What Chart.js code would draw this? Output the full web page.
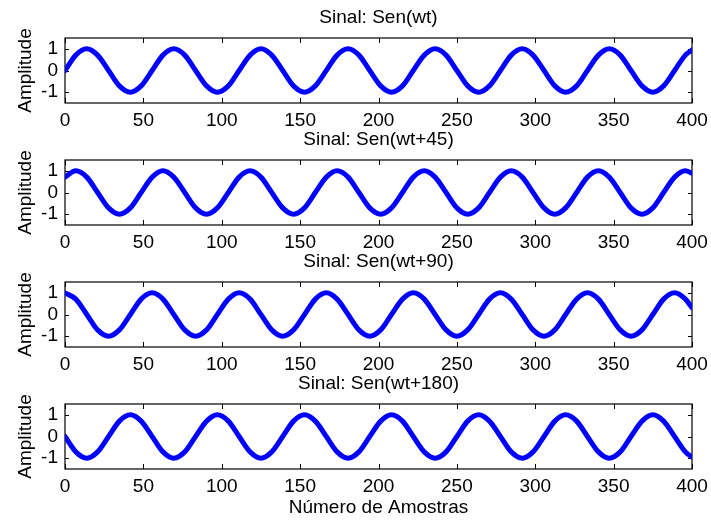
<!DOCTYPE html>
<html>
<head>
<meta charset="utf-8">
<script src="https://cdn.jsdelivr.net/npm/chart.js@4.4.0/dist/chart.umd.min.js"></script>
<style>
  body { margin: 0; background: #fff; }
  #fig { position: relative; width: 711px; height: 520px; overflow: hidden; background: #fff; }
  #fig canvas { position: absolute; left: 0; }
</style>
</head>
<body>
<div id="fig">
  <canvas id="c0" width="711" height="122" style="top:6px"></canvas>
  <canvas id="c1" width="711" height="122" style="top:128px"></canvas>
  <canvas id="c2" width="711" height="122" style="top:250px"></canvas>
  <canvas id="c3" width="711" height="148" style="top:372px"></canvas>
</div>
<script>
// titulos de cada subplot
const titles = ['Sinal: Sen(wt)', 'Sinal: Sen(wt+45)', 'Sinal: Sen(wt+90)', 'Sinal: Sen(wt+180)'];

// eixo x: numero da amostra (1/8 de periodo)
const amostras = [
  0, 6.9, 13.9, 20.8, 27.8, 34.7, 41.7, 48.6,
  55.6, 62.5, 69.4, 76.4, 83.3, 90.3, 97.2, 104.2,
  111.1, 118.1, 125, 131.9, 138.9, 145.8, 152.8, 159.7,
  166.7, 173.6, 180.6, 187.5, 194.4, 201.4, 208.3, 215.3,
  222.2, 229.2, 236.1, 243.1, 250, 256.9, 263.9, 270.8,
  277.8, 284.7, 291.7, 298.6, 305.6, 312.5, 319.4, 326.4,
  333.3, 340.3, 347.2, 354.2, 361.1, 368.1, 375, 381.9,
  388.9, 395.8, 400
];

// amplitudes
const sen0 = [
  0, 0.71, 1, 0.71, 0, -0.71, -1, -0.71,
  0, 0.71, 1, 0.71, 0, -0.71, -1, -0.71,
  0, 0.71, 1, 0.71, 0, -0.71, -1, -0.71,
  0, 0.71, 1, 0.71, 0, -0.71, -1, -0.71,
  0, 0.71, 1, 0.71, 0, -0.71, -1, -0.71,
  0, 0.71, 1, 0.71, 0, -0.71, -1, -0.71,
  0, 0.71, 1, 0.71, 0, -0.71, -1, -0.71,
  0, 0.71, 0.95
];
const sen45 = [
  0.71, 1, 0.71, 0, -0.71, -1, -0.71, 0,
  0.71, 1, 0.71, 0, -0.71, -1, -0.71, 0,
  0.71, 1, 0.71, 0, -0.71, -1, -0.71, 0,
  0.71, 1, 0.71, 0, -0.71, -1, -0.71, 0,
  0.71, 1, 0.71, 0, -0.71, -1, -0.71, 0,
  0.71, 1, 0.71, 0, -0.71, -1, -0.71, 0,
  0.71, 1, 0.71, 0, -0.71, -1, -0.71, 0,
  0.71, 1, 0.89
];
const sen90 = [
  1, 0.71, 0, -0.71, -1, -0.71, 0, 0.71,
  1, 0.71, 0, -0.71, -1, -0.71, 0, 0.71,
  1, 0.71, 0, -0.71, -1, -0.71, 0, 0.71,
  1, 0.71, 0, -0.71, -1, -0.71, 0, 0.71,
  1, 0.71, 0, -0.71, -1, -0.71, 0, 0.71,
  1, 0.71, 0, -0.71, -1, -0.71, 0, 0.71,
  1, 0.71, 0, -0.71, -1, -0.71, 0, 0.71,
  1, 0.71, 0.31
];
const sen180 = [
  0, -0.71, -1, -0.71, 0, 0.71, 1, 0.71,
  0, -0.71, -1, -0.71, 0, 0.71, 1, 0.71,
  0, -0.71, -1, -0.71, 0, 0.71, 1, 0.71,
  0, -0.71, -1, -0.71, 0, 0.71, 1, 0.71,
  0, -0.71, -1, -0.71, 0, 0.71, 1, 0.71,
  0, -0.71, -1, -0.71, 0, 0.71, 1, 0.71,
  0, -0.71, -1, -0.71, 0, 0.71, 1, 0.71,
  0, -0.71, -0.95
];

const xTicks = [0, 50, 100, 150, 200, 250, 300, 350, 400];
const yTicks = [-1, 0, 1];

const FONT = { family: '"Liberation Sans", Arial, sans-serif', size: 19, weight: 'normal', lineHeight: 1.2 };
Chart.defaults.color = '#000';

// caixa estilo MATLAB com ticks para dentro
const boxPlugin = {
  id: 'box',
  beforeDatasetsDraw(chart) {
    const { ctx, chartArea: a, scales: { x, y } } = chart;
    ctx.save();
    ctx.strokeStyle = '#000';
    ctx.lineWidth = 1.2;
    ctx.strokeRect(a.left, a.top, a.right - a.left, a.bottom - a.top);
    ctx.lineWidth = 1;
    ctx.beginPath();
    xTicks.forEach(v => {
      const px = Math.round(x.getPixelForValue(v)) + 0.5;
      ctx.moveTo(px, a.bottom); ctx.lineTo(px, a.bottom - 5);
      ctx.moveTo(px, a.top); ctx.lineTo(px, a.top + 5);
    });
    yTicks.forEach(v => {
      const py = Math.round(y.getPixelForValue(v)) + 0.5;
      ctx.moveTo(a.left, py); ctx.lineTo(a.left + 4, py);
      ctx.moveTo(a.right, py); ctx.lineTo(a.right - 4, py);
    });
    ctx.stroke();
    ctx.restore();
  }
};

function noPadding(s) {
  s.paddingLeft = 0;
  s.paddingRight = 0;
  s.paddingTop = 0;
  s.paddingBottom = 0;
}

function makeChart(id, title, values, last) {
  const canvas = document.getElementById(id);
  const canvasH = canvas.height;
  return new Chart(canvas, {
    type: 'line',
    data: {
      datasets: [{
        data: amostras.map((x, i) => ({ x: x, y: values[i] })),
        borderColor: '#0000ff',
        borderWidth: 5,
        pointRadius: 0,
        cubicInterpolationMode: 'monotone',
        borderCapStyle: 'round',
        borderJoinStyle: 'round',
        fill: false
      }]
    },
    options: {
      responsive: false,
      animation: false,
      events: [],
      layout: { padding: { left: 0, right: 19, top: 0, bottom: 0 } },
      plugins: {
        legend: { display: false },
        tooltip: { enabled: false },
        title: {
          display: true,
          text: title,
          fullSize: false,
          font: FONT,
          color: '#000',
          padding: { top: 0, bottom: 9.2 }
        }
      },
      scales: {
        x: {
          type: 'linear',
          min: 0,
          max: 400,
          grid: { display: false, drawTicks: false },
          border: { display: false },
          afterBuildTicks: s => { s.ticks = xTicks.map(v => ({ value: v })); },
          afterFit: s => { s.height = canvasH - 32 - 65; noPadding(s); },
          ticks: { padding: 6, maxRotation: 0, autoSkip: false, font: FONT, color: '#000' },
          title: { display: last, text: 'Número de Amostras', font: FONT, color: '#000', padding: { top: 0, bottom: 1 } }
        },
        y: {
          type: 'linear',
          min: -1.5,
          max: 1.5,
          grid: { display: false, drawTicks: false },
          border: { display: false },
          afterBuildTicks: s => { s.ticks = yTicks.map(v => ({ value: v })); },
          afterFit: s => { s.width = 65; noPadding(s); },
          ticks: { padding: 7, font: FONT, color: '#000' },
          title: { display: true, text: 'Amplitude', font: FONT, color: '#000', padding: { top: 14, bottom: 0 } }
        }
      }
    },
    plugins: [boxPlugin]
  });
}

makeChart('c0', titles[0], sen0, false);
makeChart('c1', titles[1], sen45, false);
makeChart('c2', titles[2], sen90, false);
makeChart('c3', titles[3], sen180, true);
</script>
</body>
</html>
